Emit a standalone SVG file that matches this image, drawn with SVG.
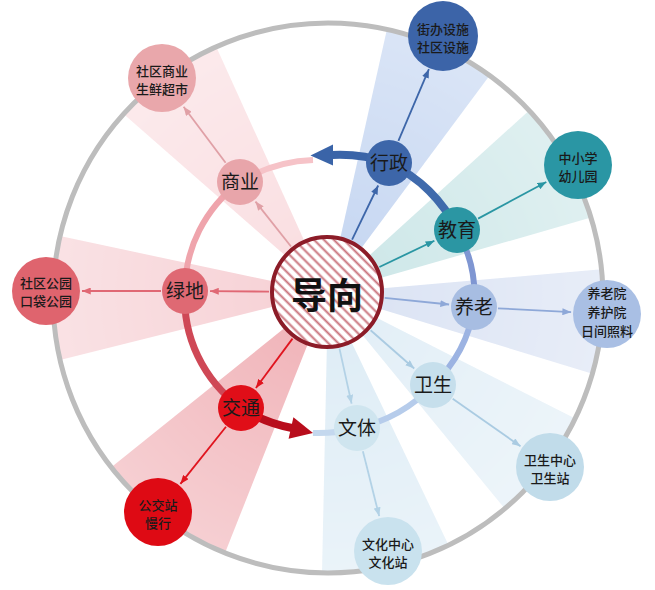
<svg xmlns="http://www.w3.org/2000/svg" width="655" height="590" viewBox="0 0 655 590">
<defs>
<style>
text{font-family:"Noto Sans CJK SC","Noto Sans",sans-serif;fill:#1a1a1a;text-anchor:middle}
.in{font-size:19px}
.out{font-size:13px;font-weight:500}
.sp{fill:none;stroke-width:1.8}
.ring{fill:none;stroke-linecap:butt}
</style>
<pattern id="hatch" patternUnits="userSpaceOnUse" width="7" height="7" patternTransform="rotate(45)">
<rect width="7" height="7" fill="#ffffff"/>
<line x1="0" y1="3.5" x2="7" y2="3.5" stroke="#c9737c" stroke-width="2"/>
</pattern>
<radialGradient id="fadeg" gradientUnits="userSpaceOnUse" cx="328" cy="293" r="280">
<stop offset="0.2" stop-color="#ffffff"/>
<stop offset="1" stop-color="#a8a8a8"/>
</radialGradient>
<mask id="fade" maskUnits="userSpaceOnUse" x="0" y="0" width="655" height="590">
<rect width="655" height="590" fill="url(#fadeg)"/>
</mask>
<marker id="m-sy" viewBox="0 0 10 8" refX="10" refY="4" markerWidth="9" markerHeight="7" markerUnits="userSpaceOnUse" orient="auto"><path d="M0,0L10,4L0,8z" fill="#e0a0a6"/></marker>
<marker id="m-ld" viewBox="0 0 10 8" refX="10" refY="4" markerWidth="9" markerHeight="7" markerUnits="userSpaceOnUse" orient="auto"><path d="M0,0L10,4L0,8z" fill="#e06874"/></marker>
<marker id="m-jt" viewBox="0 0 10 8" refX="10" refY="4" markerWidth="9" markerHeight="7" markerUnits="userSpaceOnUse" orient="auto"><path d="M0,0L10,4L0,8z" fill="#e0141e"/></marker>
<marker id="m-wt" viewBox="0 0 10 8" refX="10" refY="4" markerWidth="9" markerHeight="7" markerUnits="userSpaceOnUse" orient="auto"><path d="M0,0L10,4L0,8z" fill="#b3d2e6"/></marker>
<marker id="m-ws" viewBox="0 0 10 8" refX="10" refY="4" markerWidth="9" markerHeight="7" markerUnits="userSpaceOnUse" orient="auto"><path d="M0,0L10,4L0,8z" fill="#aacbe2"/></marker>
<marker id="m-yl" viewBox="0 0 10 8" refX="10" refY="4" markerWidth="9" markerHeight="7" markerUnits="userSpaceOnUse" orient="auto"><path d="M0,0L10,4L0,8z" fill="#8ea8d8"/></marker>
<marker id="m-jy" viewBox="0 0 10 8" refX="10" refY="4" markerWidth="9" markerHeight="7" markerUnits="userSpaceOnUse" orient="auto"><path d="M0,0L10,4L0,8z" fill="#2a96a3"/></marker>
<marker id="m-xz" viewBox="0 0 10 8" refX="10" refY="4" markerWidth="9" markerHeight="7" markerUnits="userSpaceOnUse" orient="auto"><path d="M0,0L10,4L0,8z" fill="#3d66a9"/></marker>
</defs>
<rect width="655" height="590" fill="#ffffff"/>

<g id="wedges" mask="url(#fade)">
<path d="M328,293 L123.6,114 A275,275 0 0 1 216.2,46.8 Z" fill="#fadfe2"/>
<path d="M328,293 L387,29 A275,275 0 0 1 489.6,75.5 Z" fill="#c8d8f2"/>
<path d="M328,293 L529.1,110.5 A275,275 0 0 1 591,217.6 Z" fill="#cfe8e9"/>
<path d="M328,293 L601.5,269.3 A275,275 0 0 1 592.4,373.8 Z" fill="#dce4f4"/>
<path d="M328,293 L575.2,418.6 A275,275 0 0 1 504.8,508.7 Z" fill="#e3eff7"/>
<path d="M328,293 L448.6,545.2 A275,275 0 0 1 322,573 Z" fill="#dfedf6"/>
<path d="M328,293 L225,553 A275,275 0 0 1 111.3,467.3 Z" fill="#f1b6bb"/>
<path d="M328,293 L60,359.9 A275,275 0 0 1 60,236.1 Z" fill="#f7d3d7"/>
</g>

<circle id="outer-ring" cx="328" cy="298" r="275" fill="none" stroke="#bdbdbd" stroke-width="5"/>

<g id="connectors">
<path class="ring" d="M357,428 A145,138 0 0 0 433,385" stroke="#b6cceb" stroke-width="6"/>
<path class="ring" d="M433,385 A145,138 0 0 0 474,307" stroke="#9cb3e2" stroke-width="6"/>
<path class="ring" d="M474,307 A145,138 0 0 0 457,230" stroke="#7f96d2" stroke-width="6"/>
<path class="ring" d="M457,230 A145,138 0 0 0 389,163" stroke="#3f6aac" stroke-width="8"/>
<path class="ring" d="M389,163 A145,138 0 0 0 332,155" stroke="#3a64a8" stroke-width="8"/>
<polygon points="310.5,155.5 333,144.5 333,165.5" fill="#3a64a8"/>
<path class="ring" d="M313,160 A145,138 0 0 0 240,182" stroke="#f6c3c8" stroke-width="6"/>
<path class="ring" d="M240,182 A145,138 0 0 0 185,291" stroke="#efa4ac" stroke-width="6"/>
<path class="ring" d="M185,291 A145,138 0 0 0 241,408" stroke="#cf4856" stroke-width="7"/>
<path class="ring" d="M241,408 A145,138 0 0 0 292,428" stroke="#b80d1c" stroke-width="8"/>
<polygon points="313,433 288.6,438.7 293.4,417.3" fill="#b80d1c"/>
<path class="ring" d="M313,433 A145,138 0 0 0 357,428" stroke="#c4d8ee" stroke-width="6"/>

<line class="sp" x1="291" y1="246.5" x2="255.5" y2="201.6" stroke="#e0a0a6" marker-end="url(#m-sy)"/>
<line class="sp" x1="269" y1="291.6" x2="210" y2="291.2" stroke="#e06874" marker-end="url(#m-ld)"/>
<line class="sp" x1="292.5" y1="338.6" x2="255.9" y2="388" stroke="#e0141e" marker-end="url(#m-jt)"/>
<line class="sp" x1="339.5" y1="348.6" x2="351.6" y2="403.6" stroke="#b3d2e6" marker-end="url(#m-wt)"/>
<line class="sp" x1="370.6" y1="330.3" x2="414.2" y2="368.5" stroke="#aacbe2" marker-end="url(#m-ws)"/>
<line class="sp" x1="384.7" y1="297.9" x2="449.1" y2="304.5" stroke="#8ea8d8" marker-end="url(#m-yl)"/>
<line class="sp" x1="379.4" y1="267" x2="434.4" y2="240.8" stroke="#2a96a3" marker-end="url(#m-jy)"/>
<line class="sp" x1="352.1" y1="239.7" x2="378.2" y2="185.5" stroke="#3d66a9" marker-end="url(#m-xz)"/>

<line class="sp" x1="225.6" y1="162.8" x2="183.6" y2="106.8" stroke="#e0a0a6" marker-end="url(#m-sy)"/>
<line class="sp" x1="161" y1="291" x2="82" y2="291" stroke="#e06874" marker-end="url(#m-ld)"/>
<line class="sp" x1="226" y1="426.8" x2="180.4" y2="483.9" stroke="#e0141e" marker-end="url(#m-jt)"/>
<line class="sp" x1="362.9" y1="451.3" x2="379.2" y2="516.1" stroke="#b3d2e6" marker-end="url(#m-wt)"/>
<line class="sp" x1="452.7" y1="398.8" x2="520.5" y2="446.3" stroke="#aacbe2" marker-end="url(#m-ws)"/>
<line class="sp" x1="498" y1="308.3" x2="571.1" y2="312.1" stroke="#8ea8d8" marker-end="url(#m-yl)"/>
<line class="sp" x1="478.1" y1="218.6" x2="546.3" y2="182" stroke="#2a96a3" marker-end="url(#m-jy)"/>
<line class="sp" x1="398.4" y1="140.9" x2="428.9" y2="69.2" stroke="#3d66a9" marker-end="url(#m-xz)"/>
</g>

<g id="daoxiang">
<circle cx="327" cy="292" r="55" fill="url(#hatch)" stroke="#8c1c28" stroke-width="4"/>
<text x="327" y="309" style="font-size:36px;font-weight:bold;fill:#111">导向</text>
</g>

<g id="shangye"><circle cx="240" cy="182" r="23" fill="#e8a5aa"/><text class="in" x="240" y="189">商业</text></g>
<g id="lvdi"><circle cx="185" cy="291" r="23" fill="#df6973"/><text class="in" x="185" y="298">绿地</text></g>
<g id="jiaotong"><circle cx="241" cy="408" r="23" fill="#e00e18"/><text class="in" x="241" y="415">交通</text></g>
<g id="wenti"><circle cx="357" cy="428" r="23" fill="#cfe5ef"/><text class="in" x="357" y="435">文体</text></g>
<g id="weisheng"><circle cx="433" cy="385" r="23" fill="#c6dfec"/><text class="in" x="433" y="392">卫生</text></g>
<g id="yanglao"><circle cx="474" cy="307" r="23" fill="#a7bde2"/><text class="in" x="474" y="314">养老</text></g>
<g id="jiaoyu"><circle cx="457" cy="230" r="23" fill="#2b96a3"/><text class="in" x="457" y="237">教育</text></g>
<g id="xingzheng"><circle cx="389" cy="163" r="23" fill="#3d66a9"/><text class="in" x="389" y="170">行政</text></g>

<g id="o-shangye"><circle cx="162" cy="78" r="34" fill="#e9a7ab"/><text class="out" x="162" y="76">社区商业</text><text class="out" x="162" y="94">生鲜超市</text></g>
<g id="o-lvdi"><circle cx="46" cy="291" r="34" fill="#df646e"/><text class="out" x="46" y="288">社区公园</text><text class="out" x="46" y="306">口袋公园</text></g>
<g id="o-jiaotong"><circle cx="158" cy="512" r="34" fill="#de0a14"/><text class="out" x="158" y="510">公交站</text><text class="out" x="158" y="528">慢行</text></g>
<g id="o-wenti"><circle cx="388" cy="551" r="34" fill="#c9e2ee"/><text class="out" x="388" y="549">文化中心</text><text class="out" x="388" y="567">文化站</text></g>
<g id="o-weisheng"><circle cx="550" cy="467" r="34" fill="#c1dcea"/><text class="out" x="550" y="465">卫生中心</text><text class="out" x="550" y="483">卫生站</text></g>
<g id="o-yanglao"><circle cx="607" cy="314" r="34" fill="#a9bfe4"/><text class="out" x="607" y="298">养老院</text><text class="out" x="607" y="317">养护院</text><text class="out" x="607" y="336">日间照料</text></g>
<g id="o-jiaoyu"><circle cx="578" cy="165" r="34" fill="#2a96a4"/><text class="out" x="578" y="163">中小学</text><text class="out" x="578" y="181">幼儿园</text></g>
<g id="o-xingzheng"><circle cx="443" cy="36" r="35" fill="#3c64a8"/><text class="out" x="443" y="34">街办设施</text><text class="out" x="443" y="52">社区设施</text></g>
</svg>
